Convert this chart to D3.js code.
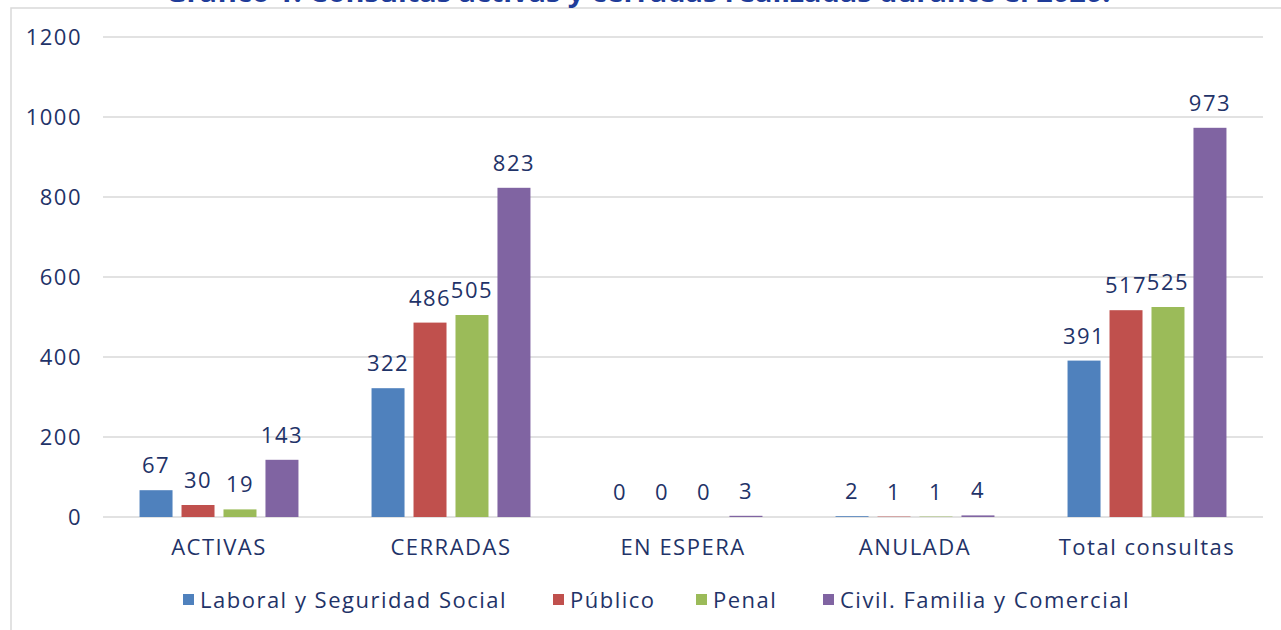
<!DOCTYPE html>
<html>
<head>
<meta charset="utf-8">
<script src="https://cdn.jsdelivr.net/npm/d3@7"></script>
<style>
  body { margin: 0; background: #fff; }
  svg { display: block; }
  text { font-family: "Open Sans", Lato, sans-serif; fill: #1f3368; letter-spacing: 1.5px; }
  text.title { letter-spacing: 0; }
</style>
</head>
<body>
<svg id="chart"></svg>
<script>
const categories = ["ACTIVAS", "CERRADAS", "EN ESPERA", "ANULADA", "Total consultas"];
const seriesNames = ["Laboral y Seguridad Social", "Público", "Penal", "Civil. Familia y Comercial"];
const laboral = [67, 322, 0, 2, 391];
const publico = [30, 486, 0, 1, 517];
const penal = [19, 505, 0, 1, 525];
const civil = [143, 823, 3, 4, 973];
const yTicks = [0, 200, 400, 600, 800, 1000, 1200];
const colors = ["#4f81bd", "#c0504d", "#9bbb59", "#8064a2"];

const width = 1281;
const height = 630;
const plotLeft = 103, plotRight = 1263, plotTop = 37, plotBottom = 517;
const fontFam = "'Open Sans', Lato, sans-serif";

const svg = d3.select("#chart").attr("width", width).attr("height", height);

// frame (cut off on the right and bottom like the source)
svg.append("rect")
  .attr("x", 11).attr("y", 8)
  .attr("width", 1300).attr("height", 700)
  .attr("fill", "none").attr("stroke", "#d9d9d9").attr("stroke-width", 1.5);

// title, mostly cropped out at the top
svg.append("text")
  .attr("class", "title")
  .attr("x", 638).attr("y", 2)
  .attr("text-anchor", "middle")
  .attr("font-weight", "bold")
  .attr("font-size", 26)
  .attr("textLength", 945)
  .attr("lengthAdjust", "spacingAndGlyphs")
  .style("fill", "#1f3c99")
  .text("Gráfico 1. Consultas activas y cerradas realizadas durante el 2020.");

const series = [laboral, publico, penal, civil];

const x0 = d3.scaleBand().domain(categories).range([plotLeft, plotRight])
  .paddingInner(0.315).paddingOuter(0.1575);
const x1 = d3.scaleBand().domain(d3.range(4)).range([0, x0.bandwidth()])
  .paddingInner(0.214).paddingOuter(0);
const y = d3.scaleLinear().domain([0, 1200]).range([plotBottom, plotTop]);

// gridlines
svg.append("g")
  .selectAll("line")
  .data(yTicks)
  .join("line")
  .attr("x1", plotLeft).attr("x2", plotRight)
  .attr("y1", (d) => y(d)).attr("y2", (d) => y(d))
  .attr("stroke", "#d9d9d9").attr("stroke-width", 1.5);

// y axis labels
const yAxis = d3.axisLeft(y).tickValues(yTicks).tickFormat(d3.format("d"))
  .tickSize(0).tickPadding(0);
svg.append("g")
  .attr("transform", `translate(82, 0)`)
  .call(yAxis)
  .call((g) => g.select(".domain").remove())
  .call((g) => g.selectAll("text")
    .attr("font-size", 22).attr("dy", "0.35em")
    .style("font-family", fontFam).style("fill", "#1f3368"));

// x axis labels
const xAxis = d3.axisBottom(x0).tickSize(0).tickPadding(0);
svg.append("g")
  .attr("transform", `translate(0, ${plotBottom})`)
  .call(xAxis)
  .call((g) => g.select(".domain").remove())
  .call((g) => g.selectAll("text")
    .attr("y", 38).attr("dy", 0)
    .attr("font-size", 22)
    .style("font-family", fontFam).style("fill", "#1f3368"));

// bars
const groups = svg.append("g")
  .selectAll("g")
  .data(categories)
  .join("g")
  .attr("transform", (d) => `translate(${x0(d)}, 0)`);

groups.selectAll("rect")
  .data((d, i) => series.map((s, k) => ({ k, v: s[i] })))
  .join("rect")
  .attr("x", (d) => x1(d.k))
  .attr("width", x1.bandwidth())
  .attr("y", (d) => y(d.v))
  .attr("height", (d) => plotBottom - y(d.v))
  .attr("fill", (d) => colors[d.k]);

groups.selectAll("text")
  .data((d, i) => series.map((s, k) => ({ k, v: s[i] })))
  .join("text")
  .attr("x", (d) => x1(d.k) + x1.bandwidth() / 2)
  .attr("y", (d) => y(d.v) - 17)
  .attr("text-anchor", "middle")
  .attr("font-size", 22)
  .text((d) => d.v);

// legend
const legendX = [183, 553, 696, 823];
const legend = svg.append("g")
  .selectAll("g")
  .data(seriesNames)
  .join("g")
  .attr("transform", (d, i) => `translate(${legendX[i]}, 600)`);

legend.append("rect")
  .attr("x", 0).attr("y", -6)
  .attr("width", 11).attr("height", 11)
  .attr("fill", (d, i) => colors[i]);

legend.append("text")
  .attr("x", 17).attr("y", 8)
  .attr("font-size", 22)
  .text((d) => d);
</script>
</body>
</html>
